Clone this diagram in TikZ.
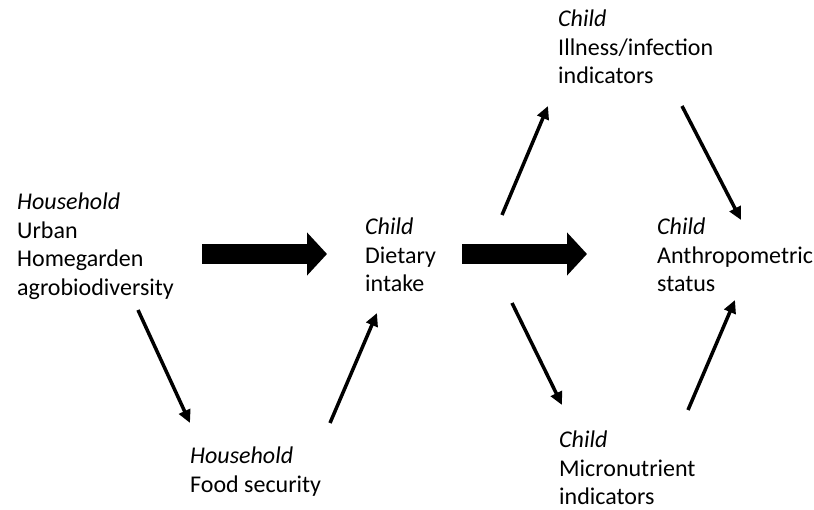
\documentclass[tikz,border=0pt]{standalone}
\usepackage{fontspec}
\setmainfont{Carlito}
\usetikzlibrary{arrows.meta}
\tikzset{
factor/.style={
       anchor=north west,
       align=left,
       inner sep=0pt,
       font=\fontsize{24}{28.5}\selectfont,
       },
link/.style={-{Triangle[length=13pt,width=12pt]}, line width=3.5pt},
push/.style={-{Triangle[length=20pt,width=42pt]}, line width=20pt},
}

\begin{document}
\begin{tikzpicture}[x=1pt,y=-1pt]
      \useasboundingbox (0,0) rectangle (814,510);

      \node[factor] (hh) at (17,193) {\textit{Household}\\Urban\\Homegarden\\agrobiodiversity};
      \node[factor] (food) at (190,447) {\textit{Household}\\Food security};
      \node[factor] (diet) at (365,218) {\textit{Child}\\Dietary\\intake};
      \node[factor] (ill) at (558,10) {\textit{Child}\\Illness/infection\\indicators};
      \node[factor] (micro) at (559,431) {\textit{Child}\\Micronutrient\\indicators};
      \node[factor] (anthro) at (657,218) {\textit{Child}\\Anthropometric\\status};

      % Main pathway
      \draw[push] ([shift={(185,61)}]hh.north west) -- ([shift={(-38,36)}]diet.north west);
      \draw[push] ([shift={(97,36)}]diet.north west) -- ([shift={(-70,36)}]anthro.north west);

      % Draw thin arrows between factors
      \foreach \a/\ax/\ay/\b/\bx/\by in {
          hh/121/117/food/0/-24,
          food/140/-24/diet/12/95,
          diet/137/-3/ill/-10/96,
          ill/124/96/anthro/84/2,
          diet/147/85/micro/3/-26,
          micro/129/-21/anthro/78/82%
      } {
          \draw[link] ([shift={(\ax,\ay)}]\a.north west) -- ([shift={(\bx,\by)}]\b.north west);
      }
\end{tikzpicture}
\end{document}
